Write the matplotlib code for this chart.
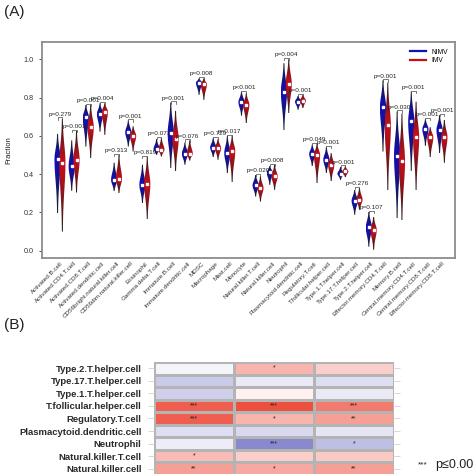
import matplotlib
matplotlib.use('Agg')
import matplotlib.pyplot as plt
import numpy as np
from matplotlib.patches import Polygon
from matplotlib.colors import LinearSegmentedColormap, to_rgb

plt.rcParams['font.family'] = ['Liberation Sans', 'DejaVu Sans']

# ---- panel A data: violin summaries (lo, median, hi) per group
cells = ['Activated.B.cell', 'Activated.CD4.T.cell', 'Activated.CD8.T.cell',
         'Activated.dendritic.cell', 'CD56bright.natural.killer.cell',
         'CD56dim.natural.killer.cell', 'Eosinophil', 'Gamma.delta.T.cell',
         'Immature.B.cell', 'Immature.dendritic.cell', 'MDSC', 'Macrophage',
         'Mast.cell', 'Monocyte', 'Natural.killer.T.cell', 'Natural.killer.cell',
         'Neutrophil', 'Plasmacytoid.dendritic.cell', 'Regulatory.T.cell',
         'T.follicular.helper.cell', 'Type.1.T.helper.cell', 'Type.17.T.helper.cell',
         'Type.2.T.helper.cell', 'Effector.memory.CD4.T.cell', 'Memory.B.cell',
         'Central.memory.CD4.T.cell', 'Central.memory.CD8.T.cell',
         'Effector.memory.CD8.T.cell']

nimv_lo = [0.195, 0.313, 0.544, 0.622, 0.31, 0.544, 0.249, 0.50, 0.43, 0.449, 0.814, 0.487,
           0.405, 0.705, 0.283, 0.344, 0.63, 0.736, 0.44, 0.405, 0.37, 0.188, 0.021, 0.518,
           0.169, 0.417, 0.548, 0.51]
nimv_med = [0.478, 0.44, 0.697, 0.715, 0.37, 0.619, 0.344, 0.53, 0.614, 0.506, 0.878, 0.539,
            0.51, 0.776, 0.341, 0.409, 0.831, 0.779, 0.506, 0.475, 0.402, 0.261, 0.122, 0.75,
            0.497, 0.675, 0.635, 0.631]
nimv_hi = [0.61, 0.576, 0.762, 0.77, 0.46, 0.68, 0.449, 0.583, 0.774, 0.565, 0.90, 0.588,
           0.60, 0.83, 0.397, 0.443, 0.979, 0.809, 0.553, 0.541, 0.437, 0.318, 0.203, 0.889,
           0.727, 0.83, 0.687, 0.708]
imv_lo = [0.10, 0.304, 0.483, 0.605, 0.30, 0.518, 0.165, 0.492, 0.414, 0.471, 0.788, 0.475,
          0.358, 0.666, 0.257, 0.318, 0.718, 0.744, 0.353, 0.362, 0.384, 0.214, 0.005, 0.317,
          0.16, 0.317, 0.487, 0.459]
imv_med = [0.46, 0.475, 0.645, 0.727, 0.376, 0.60, 0.348, 0.527, 0.583, 0.506, 0.87, 0.536,
           0.522, 0.762, 0.327, 0.388, 0.87, 0.784, 0.501, 0.449, 0.414, 0.266, 0.108, 0.654,
           0.466, 0.592, 0.593, 0.593]
imv_hi = [0.69, 0.625, 0.762, 0.77, 0.50, 0.65, 0.49, 0.588, 0.73, 0.576, 0.90, 0.583,
          0.60, 0.822, 0.388, 0.449, 1.0, 0.814, 0.558, 0.51, 0.44, 0.327, 0.177, 0.878,
          0.715, 0.778, 0.645, 0.683]
p_text = ['p=0.279', 'p=0.001', 'p=0.001', 'p=0.004', 'p=0.313', 'p=0.001', 'p=0.819',
          'p=0.071', 'p=0.001', 'p=0.076', 'p=0.008', 'p=0.729', 'p=0.017', 'p<0.001',
          'p=0.020', 'p=0.008', 'p=0.004', 'p=0.001', 'p=0.049', 'p=0.001', 'p=0.001',
          'p=0.276', 'p=0.107', 'p=0.001', 'p=0.030', 'p=0.001', 'p=0.001', 'p=0.001']

# ---- panel B data: heatmap
hm_rows = ['Type.2.T.helper.cell', 'Type.17.T.helper.cell', 'Type.1.T.helper.cell',
           'T.follicular.helper.cell', 'Regulatory.T.cell', 'Plasmacytoid.dendritic.cell',
           'Neutrophil', 'Natural.killer.T.cell', 'Natural.killer.cell']
hm_vals = [[-0.05, 0.35, 0.22],
           [-0.25, -0.10, -0.15],
           [-0.22, 0.07, -0.10],
           [0.75, 0.82, 0.62],
           [0.75, 0.35, 0.45],
           [-0.15, -0.18, -0.12],
           [-0.08, -0.55, -0.30],
           [0.32, 0.22, 0.25],
           [0.45, 0.40, 0.45]]
hm_stars = [['', '*', ''],
            ['', '', ''],
            ['', '', ''],
            ['***', '***', '***'],
            ['***', '*', '**'],
            ['', '', ''],
            ['', '***', '*'],
            ['*', '', ''],
            ['**', '*', '**']]

BLUE = '#1010b8'
RED = '#c4101a'
DARK = '#1e1e1e'


def draw_violin(ax, x, lo, med, hi, color, hw=0.19):
    ys = np.linspace(lo, hi, 120)
    s_lo = max(med - lo, 1e-3) / 2.6
    s_hi = max(hi - med, 1e-3) / 2.6
    s = np.where(ys < med, s_lo, s_hi)
    w = hw * np.exp(-0.5 * ((ys - med) / s) ** 2) + 0.028
    verts = np.concatenate([np.column_stack([x - w, ys]),
                            np.column_stack([x + w, ys])[::-1]])
    poly = Polygon(verts, closed=True, facecolor='none', edgecolor='none')
    ax.add_patch(poly)
    # vertical gradient: colour at the median, dark towards the tails
    t = np.where(ys < med, (med - ys) / max(med - lo, 1e-3), (ys - med) / max(hi - med, 1e-3))
    t = np.clip(t, 0, 1) ** 1.3
    c0 = np.array(to_rgb(color))
    c1 = np.array(to_rgb(DARK))
    img = (1 - t)[:, None] * c0 + t[:, None] * c1
    im = ax.imshow(img[:, None, :], extent=[x - hw - 0.04, x + hw + 0.04, lo, hi],
                   origin='lower', aspect='auto', interpolation='bilinear', zorder=2)
    im.set_clip_path(poly)
    ax.plot([x], [med], marker='s', ms=2.0, color='white', mec='white', zorder=3)


fig = plt.figure(figsize=(4.74, 4.74), dpi=100)

# ---------------- panel A
ax = fig.add_axes([0.0886, 0.4557, 0.8713, 0.4557])
xs = np.arange(1, len(cells) + 1)
off = 0.17
for i, x in enumerate(xs):
    draw_violin(ax, x - off, nimv_lo[i], nimv_med[i], nimv_hi[i], BLUE)
    draw_violin(ax, x + off, imv_lo[i], imv_med[i], imv_hi[i], RED)
    top = max(nimv_hi[i], imv_hi[i]) + 0.006
    ax.plot([x - off, x - off, x + off, x + off], [top - 0.012, top, top, top - 0.012],
            color='#444444', lw=0.5, zorder=3)
    ax.text(x, top + 0.004, p_text[i], ha='center', va='bottom', fontsize=4.6,
            color='#222222', zorder=4)

ax.plot([], [], color=BLUE, lw=1.6, label='NIMV')
ax.plot([], [], color=RED, lw=1.6, label='IMV')
ax.legend(loc='upper right', fontsize=4.8, frameon=False, handlelength=2.4,
          borderaxespad=0.6, labelspacing=0.25)

ax.set_xlim(-0.27, 28.92)
ax.set_ylim(-0.038, 1.09)
ax.set_yticks([0.0, 0.2, 0.4, 0.6, 0.8, 1.0])
ax.set_yticklabels(['0.0', '0.2', '0.4', '0.6', '0.8', '1.0'])
ax.set_xticks(xs)
ax.set_xticklabels(cells, rotation=45, ha='right', rotation_mode='anchor', fontsize=4.5,
                   color='#333333')
ax.tick_params(axis='y', labelsize=5.2, colors='#333333', length=2.5, width=0.6)
ax.tick_params(axis='x', length=0, pad=2)
ax.set_ylabel('Fraction', fontsize=5.5, color='#222222', labelpad=8)
for sp in ax.spines.values():
    sp.set_color('#8c8c8c')
    sp.set_linewidth(1.3)

fig.text(0.008, 0.975, '(A)', fontsize=11, va='center', ha='left', color='#222222')
fig.text(0.008, 0.314, '(B)', fontsize=11, va='center', ha='left', color='#222222')

# ---------------- panel B
cmap = LinearSegmentedColormap.from_list('bwr_soft', ['#2a2aa8', '#ffffff', '#ea2a16'])
hx = fig.add_axes([0.3249, -0.002, 0.5063, 0.2383])
vals = np.array(hm_vals)
hx.pcolormesh(np.arange(4), np.arange(len(hm_rows) + 1), vals, cmap=cmap, vmin=-1, vmax=1,
              edgecolors='#b4b4b4', linewidth=1.8)
for r in range(len(hm_rows)):
    for c in range(3):
        if hm_stars[r][c]:
            hx.text(c + 0.5, r + 0.5, hm_stars[r][c], ha='center', va='center',
                    fontsize=5, color='#222222')
hx.set_xlim(0, 3)
hx.set_ylim(len(hm_rows), 0)
hx.set_xticks([])
hx.set_yticks(np.arange(len(hm_rows)) + 0.5)
hx.set_yticklabels(hm_rows, fontsize=6.8, fontweight='bold', color='#2a2a2a')
hx.tick_params(axis='y', left=True, right=True, length=4, width=0.6, color='#d0d0d0', pad=5)
for sp in hx.spines.values():
    sp.set_visible(False)

fig.text(0.882, 0.012, '***', fontsize=6, ha='left', va='bottom', color='#222222')
fig.text(0.918, 0.006, 'p\u22640.001', fontsize=9, ha='left', va='bottom', color='#222222')

fig.savefig('out.png', dpi=100)
